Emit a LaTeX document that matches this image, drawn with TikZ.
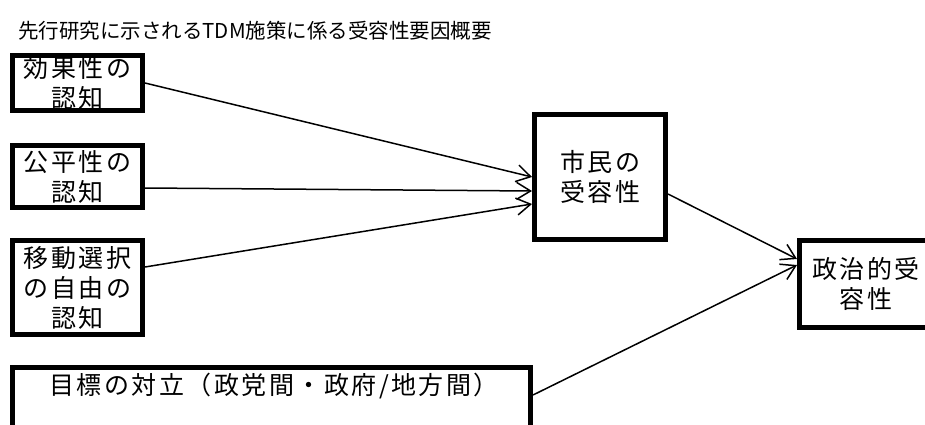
\documentclass[tikz,border=0pt]{standalone}
\usepackage{fontspec}
\setmainfont{Noto Sans CJK JP}
\newfontfamily\boxfont[LetterSpace=10]{Noto Sans CJK JP}
\newfontfamily\titlefont{Noto Sans CJK JP}
\usetikzlibrary{arrows.meta}
\begin{document}
\begin{tikzpicture}[x=1pt,y=-1pt,
  fbox/.style={draw=black,line width=5pt,rectangle,inner sep=0pt,align=center,
    font=\boxfont\fontsize{25}{30}\selectfont,fill=white},
  conn/.style={line width=1.5pt,-{Straight Barb[length=14pt,width=17pt]}}]
\useasboundingbox (0,0) rectangle (925,425);
\clip (0,0) rectangle (925,425);
\fill[white] (0,0) rectangle (925,425);
\node[anchor=west,font=\titlefont\fontsize{20.5}{24}\selectfont,inner sep=0pt] (title) at (18,31) {先行研究に示されるTDM施策に係る受容性要因概要};
\node[fbox,minimum width=130pt,minimum height=55pt] (b1) at (77.5,83) {効果性の\\認知};
\node[fbox,minimum width=130pt,minimum height=62pt] (b2) at (77.5,176.5) {公平性の\\認知};
\node[fbox,minimum width=130pt,minimum height=94pt] (b3) at (77.5,287.5) {移動選択\\の自由の\\認知};
\node[fbox,minimum width=518pt,minimum height=70pt] (b4) at (271.5,402.5) {};
\node[font=\boxfont\fontsize{25}{30}\selectfont,inner sep=0pt] (b4t) at (274,386) {目標の対立（政党間・政府/地方間）};
\node[fbox,minimum width=131pt,minimum height=125pt] (s) at (600,177) {市民の\\受容性};
\node[fbox,minimum width=133pt,minimum height=87pt] (p) at (866,284) {政治的受\\容性};
\draw[conn] (b1.east) -- (s.west);
\draw[conn] ([yshift=-11.5pt]b2.east) -- ([yshift=-14pt]s.west);
\draw[conn] ([yshift=20.5pt]b3.east) -- ([yshift=-27pt]s.west);
\draw[conn] ([yshift=-17pt]s.east) -- ([yshift=25pt]p.west);
\draw[conn] ([yshift=7.5pt]b4.east) -- ([yshift=19pt]p.west);
\end{tikzpicture}
\end{document}
